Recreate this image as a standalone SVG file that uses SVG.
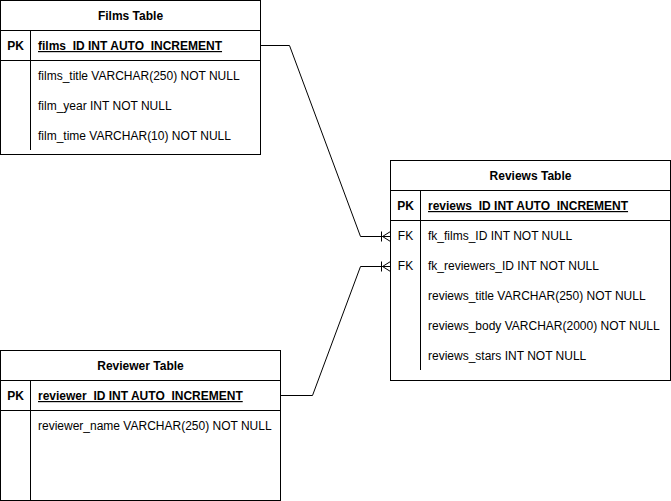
<svg xmlns="http://www.w3.org/2000/svg" width="671" height="501" viewBox="0 0 671 501">
<style>
.box{fill:#fff;stroke:#000;stroke-width:1}
.ln{stroke:#000;stroke-width:1;fill:none}
text{font-family:"Liberation Sans",Arial,sans-serif;font-size:12px;fill:#000}
.h{font-weight:bold;text-anchor:middle}
.pk{font-weight:bold;text-anchor:middle}
.key{font-weight:bold;text-decoration:underline}
.fk{text-anchor:middle}
</style>
<defs>
<marker id="crow" markerUnits="userSpaceOnUse" markerWidth="12" markerHeight="14" refX="10" refY="7" orient="auto" overflow="visible">
<path d="M1,2 V12 M2,7 L10,2 M2,7 L10,7 M2,7 L10,12" fill="none" stroke="#000" stroke-width="1"/>
</marker>
</defs>
<rect width="671" height="501" fill="#fff"/>
<g id="connectors">
<polyline class="ln" points="260.5,45.5 289.5,45.5 360.5,236.5 390.5,236.5" marker-end="url(#crow)"/>
<polyline class="ln" points="280.5,395.5 312.5,395.5 360.5,266.5 390.5,266.5" marker-end="url(#crow)"/>
</g>
<g id="films">
<rect class="box" x="0.5" y="0.5" width="260" height="154"/>
<line class="ln" x1="0.5" y1="30.5" x2="260.5" y2="30.5"/>
<line class="ln" x1="0.5" y1="60.5" x2="260.5" y2="60.5"/>
<line class="ln" x1="30.5" y1="30.5" x2="30.5" y2="150"/>
<text class="h" x="130.5" y="20">Films Table</text>
<text class="pk" x="15.5" y="50">PK</text>
<text class="key" x="38" y="50">films_ID INT AUTO_INCREMENT</text>
<text x="38" y="80">films_title VARCHAR(250) NOT NULL</text>
<text x="38" y="110">film_year INT NOT NULL</text>
<text x="38" y="140">film_time VARCHAR(10) NOT NULL</text>
</g>
<g id="reviews">
<rect class="box" x="390.5" y="160.5" width="280" height="220"/>
<line class="ln" x1="390.5" y1="190.5" x2="670.5" y2="190.5"/>
<line class="ln" x1="390.5" y1="220.5" x2="670.5" y2="220.5"/>
<line class="ln" x1="420.5" y1="190.5" x2="420.5" y2="370"/>
<text class="h" x="530.5" y="180">Reviews Table</text>
<text class="pk" x="405.5" y="210">PK</text>
<text class="key" x="428" y="210">reviews_ID INT AUTO_INCREMENT</text>
<text class="fk" x="405.5" y="240">FK</text>
<text x="428" y="240">fk_films_ID INT NOT NULL</text>
<text class="fk" x="405.5" y="270">FK</text>
<text x="428" y="270">fk_reviewers_ID INT NOT NULL</text>
<text x="428" y="300">reviews_title VARCHAR(250) NOT NULL</text>
<text x="428" y="330">reviews_body VARCHAR(2000) NOT NULL</text>
<text x="428" y="360">reviews_stars INT NOT NULL</text>
</g>
<g id="reviewer">
<rect class="box" x="0.5" y="350.5" width="280" height="150"/>
<line class="ln" x1="0.5" y1="380.5" x2="280.5" y2="380.5"/>
<line class="ln" x1="0.5" y1="410.5" x2="280.5" y2="410.5"/>
<line class="ln" x1="30.5" y1="380.5" x2="30.5" y2="500.5"/>
<text class="h" x="140.5" y="370">Reviewer Table</text>
<text class="pk" x="15.5" y="400">PK</text>
<text class="key" x="38" y="400">reviewer_ID INT AUTO_INCREMENT</text>
<text x="38" y="430">reviewer_name VARCHAR(250) NOT NULL</text>
</g>
</svg>
